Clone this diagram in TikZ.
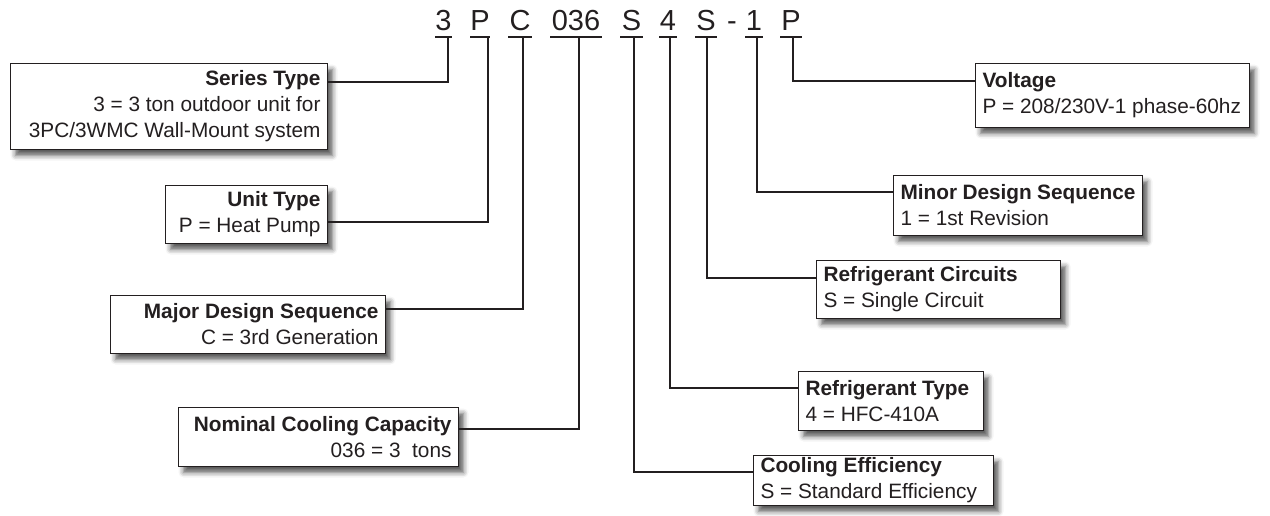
\documentclass[tikz,border=0pt]{standalone}
\usepackage{fontspec}
\setmainfont{Liberation Sans}
\usetikzlibrary{shadows.blur,calc}
\definecolor{ink}{HTML}{231F20}
\tikzset{
  code/.style={anchor=base, text=ink, font=\fontsize{29}{30}\selectfont, inner sep=0pt},
  uline/.style={draw=ink, line width=1.6pt},
  conn/.style={draw=ink, line width=1.5pt},
  infobox/.style={draw=ink, line width=1pt, fill=white, anchor=north west,
    text=ink, font=\fontsize{20.8}{26}\selectfont, inner xsep=7pt, inner ysep=0pt,
    blur shadow={shadow xshift=5pt, shadow yshift=-6pt, shadow blur radius=5pt, shadow opacity=65}},
  rbox/.style={infobox, align=flush right},
  lbox/.style={infobox, align=flush left}
}
\begin{document}
\begin{tikzpicture}[x=1pt,y=-1pt]
\useasboundingbox (0,0) rectangle (1270,516);

% code characters
\node[code] (c3) at (443.5,31) {3};
\node[code] (cP1) at (480,31) {P};
\node[code] (cC) at (520,31) {C};
\node[code] (c036) at (576,31) {036};
\node[code] (cS1) at (631.5,31) {S};
\node[code] (c4) at (668,31) {4};
\node[code] (cS2) at (706,31) {S};
\node[code] (cdash) at (732,31) {-};
\node[code] (c1) at (754,31) {1};
\node[code] (cP2) at (791,31) {P};

% underlines
\draw[uline] (435,37) -- (452,37);
\draw[uline] (470,37) -- (490,37);
\draw[uline] (508,37) -- (532,37);
\draw[uline] (550,37) -- (602,37);
\draw[uline] (620,37) -- (643,37);
\draw[uline] (659,37) -- (677,37);
\draw[uline] (695,37) -- (717,37);
\draw[uline] (745,37) -- (763,37);
\draw[uline] (780,37) -- (802,37);

% tick coordinates
\coordinate (u3) at (448,37);
\coordinate (uP1) at (488,37);
\coordinate (uC) at (523,37);
\coordinate (u036) at (579,37);
\coordinate (uS1) at (634,37);
\coordinate (u4) at (670,37);
\coordinate (uS2) at (707,37);
\coordinate (u1) at (757,37);
\coordinate (uP2) at (793,37);

% boxes
\node[rbox, text width=303pt, minimum height=86pt] (series) at (10,63)
  {\textbf{Series Type}\\3 = 3 ton outdoor unit for\\3PC/3WMC Wall-Mount system};
\node[rbox, text width=148pt, minimum height=58pt] (unit) at (165,185)
  {\textbf{Unit Type}\\P = Heat Pump};
\node[rbox, text width=261pt, minimum height=58pt] (major) at (110,295)
  {\textbf{Major Design Sequence}\\C = 3rd Generation};
\node[rbox, text width=266pt, minimum height=59pt] (nominal) at (178,407)
  {\textbf{Nominal Cooling Capacity}\\036 = 3\ \ tons};
\node[lbox, text width=260pt, minimum height=64pt] (voltage) at (975,63)
  {\textbf{Voltage}\\P = 208/230V-1 phase-60hz};
\node[lbox, text width=235pt, minimum height=60pt] (minor) at (893,175)
  {\textbf{Minor Design Sequence}\\1 = 1st Revision};
\node[lbox, text width=230pt, minimum height=58pt] (circuits) at (816,260)
  {\textbf{Refrigerant Circuits}\\S = Single Circuit};
\node[lbox, text width=171pt, minimum height=59pt] (reftype) at (798,371)
  {\textbf{Refrigerant Type}\\4 = HFC-410A};
\node[lbox, text width=226pt, minimum height=50pt] (cooling) at (753,455)
  {\textbf{Cooling Efficiency}\\S = Standard Efficiency};

% connectors
\draw[conn] (u3) |- ($(series.north east)+(0,19)$);
\draw[conn] (uP1) |- ($(unit.north east)+(0,37)$);
\draw[conn] (uC) |- ($(major.north east)+(0,14)$);
\draw[conn] (u036) |- ($(nominal.north east)+(0,22)$);
\draw[conn] (uS1) |- ($(cooling.north west)+(0,17)$);
\draw[conn] (u4) |- ($(reftype.north west)+(0,17)$);
\draw[conn] (uS2) |- ($(circuits.north west)+(0,18)$);
\draw[conn] (u1) |- ($(minor.north west)+(0,17)$);
\draw[conn] (uP2) |- ($(voltage.north west)+(0,18)$);
\end{tikzpicture}
\end{document}
